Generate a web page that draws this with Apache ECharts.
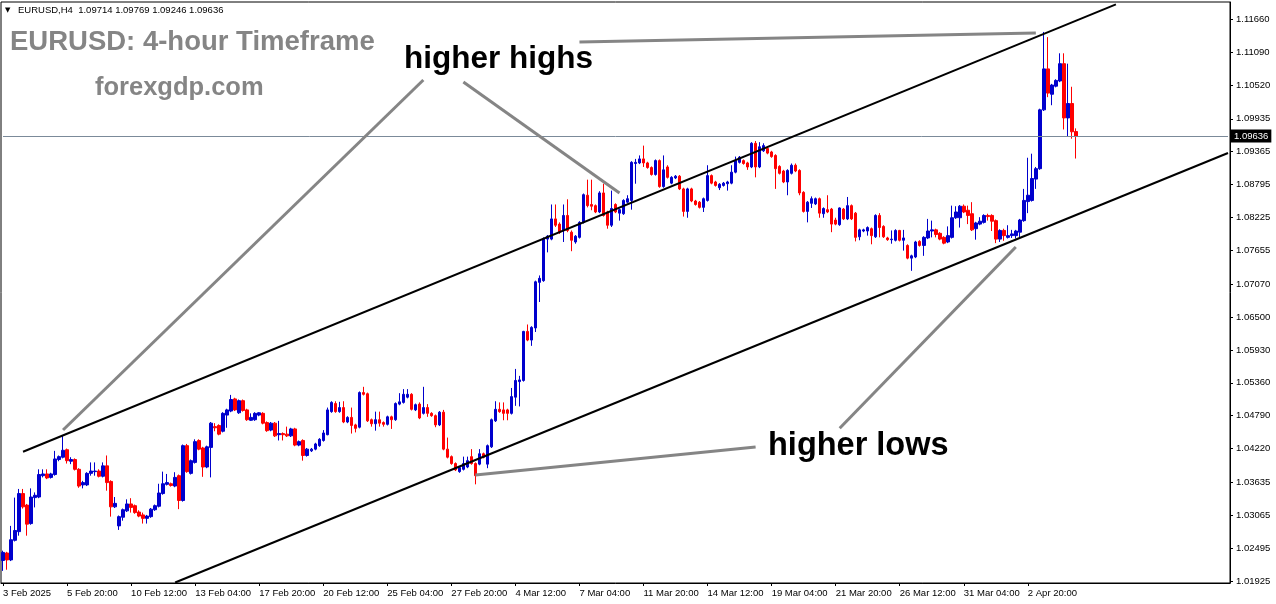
<!DOCTYPE html>
<html><head><meta charset="utf-8">
<script src="https://cdn.jsdelivr.net/npm/echarts@6/dist/echarts.min.js"></script>
<style>html,body{margin:0;padding:0;background:#fff}#c{width:1276px;height:604px}</style>
</head><body><div id="c"></div>
<script>
// EURUSD H4 candles, 3 Feb 2025 .. 4 Apr 2025
const opens=[
1.0228,1.0241,1.0229,1.0263,1.0278,1.0344,1.0324,1.0292,1.0337,1.0338,
1.0375,1.0378,1.0372,1.0377,1.0403,1.0407,1.0420,1.0400,1.0403,1.0386,
1.0359,1.0359,1.0379,1.0382,1.0383,1.0374,1.0392,1.0365,1.0321,1.0288,
1.0303,1.0314,1.0326,1.0323,1.0312,1.0307,1.0301,1.0304,1.0316,1.0322,
1.0344,1.0360,1.0361,1.0357,1.0375,1.0332,1.0427,1.0379,1.0398,1.0436,
1.0423,1.0390,1.0424,1.0460,1.0462,1.0452,1.0480,1.0487,1.0508,1.0484,
1.0505,1.0489,1.0471,1.0472,1.0480,1.0483,1.0467,1.0454,1.0466,1.0446,
1.0448,1.0447,1.0444,1.0456,1.0428,1.0436,1.0410,1.0418,1.0421,1.0427,
1.0436,1.0446,1.0486,1.0500,1.0486,1.0493,1.0468,1.0476,1.0463,1.0459,
1.0519,1.0517,1.0472,1.0465,1.0472,1.0467,1.0464,1.0477,1.0472,1.0499,
1.0502,1.0511,1.0516,1.0489,1.0499,1.0483,1.0493,1.0483,1.0479,1.0463,
1.0485,1.0421,1.0408,1.0396,1.0382,1.0386,1.0390,1.0408,1.0396,1.0395,
1.0413,1.0395,1.0425,1.0470,1.0490,1.0489,1.0489,1.0483,1.0511,1.0538,
1.0540,1.0625,1.0610,1.0631,1.0710,1.0713,1.0785,1.0785,1.0820,1.0811,
1.0800,1.0826,1.0797,1.0780,1.0788,1.0814,1.0861,1.0845,1.0843,1.0832,
1.0865,1.0832,1.0809,1.0845,1.0830,1.0829,1.0849,1.0852,1.0916,1.0917,
1.0924,1.0917,1.0909,1.0897,1.0921,1.0876,1.0910,1.0882,1.0891,1.0894,
1.0872,1.0833,1.0872,1.0851,1.0849,1.0840,1.0852,1.0895,1.0884,1.0874,
1.0878,1.0881,1.0882,1.0901,1.0918,1.0921,1.0917,1.0910,1.0951,1.0910,
1.0938,1.0942,1.0936,1.0930,1.0911,1.0903,1.0884,1.0899,1.0913,1.0904,
1.0866,1.0833,1.0847,1.0846,1.0855,1.0829,1.0836,1.0837,1.0818,1.0810,
1.0837,1.0820,1.0843,1.0830,1.0789,1.0799,1.0799,1.0803,1.0789,1.0826,
1.0807,1.0787,1.0784,1.0783,1.0800,1.0783,1.0774,1.0752,1.0754,1.0781,
1.0774,1.0787,1.0799,1.0801,1.0795,1.0788,1.0780,1.0788,1.0822,1.0822,
1.0842,1.0835,1.0829,1.0803,1.0811,1.0814,1.0826,1.0826,1.0817,1.0785,
1.0800,1.0788,1.0791,1.0791,1.0797,1.0817,1.0850,1.0852,1.0889,1.0907,
1.1009,1.1080,1.1036,1.1050,1.1059,1.1089,1.0995,1.1020,1.09714];
const highs=[
1.0245,1.0243,1.0288,1.0337,1.0352,1.0352,1.0326,1.0353,1.0346,1.0386,
1.0386,1.0386,1.0380,1.0418,1.0410,1.0444,1.0422,1.0407,1.0405,1.0388,
1.0366,1.0381,1.0398,1.0398,1.0386,1.0398,1.0410,1.0367,1.0338,1.0306,
1.0318,1.0334,1.0336,1.0325,1.0315,1.0311,1.0307,1.0319,1.0325,1.0361,
1.0382,1.0378,1.0363,1.0381,1.0377,1.0429,1.0430,1.0403,1.0438,1.0438,
1.0425,1.0427,1.0468,1.0466,1.0464,1.0485,1.0491,1.0515,1.0510,1.0507,
1.0507,1.0491,1.0483,1.0485,1.0485,1.0485,1.0469,1.0468,1.0468,1.0470,
1.0450,1.0460,1.0458,1.0458,1.0436,1.0438,1.0423,1.0423,1.0432,1.0440,
1.0454,1.0493,1.0504,1.0504,1.0503,1.0504,1.0478,1.0493,1.0465,1.0521,
1.0529,1.0519,1.0474,1.0486,1.0486,1.0469,1.0479,1.0479,1.0502,1.0518,
1.0525,1.0525,1.0518,1.0500,1.0502,1.0529,1.0499,1.0485,1.0481,1.0487,
1.0489,1.0441,1.0410,1.0398,1.0391,1.0408,1.0408,1.0421,1.0398,1.0421,
1.0415,1.0429,1.0474,1.0504,1.0502,1.0502,1.0491,1.0527,1.0560,1.0548,
1.0626,1.0637,1.0634,1.0713,1.0722,1.0788,1.0792,1.0845,1.0845,1.0814,
1.0845,1.0854,1.0800,1.0792,1.0816,1.0864,1.0888,1.0888,1.0845,1.0868,
1.0881,1.0834,1.0869,1.0847,1.0838,1.0854,1.0861,1.0920,1.0924,1.0930,
1.0947,1.0919,1.0911,1.0923,1.0923,1.0930,1.0913,1.0894,1.0896,1.0896,
1.0874,1.0874,1.0874,1.0853,1.0851,1.0857,1.0913,1.0897,1.0886,1.0882,
1.0884,1.0886,1.0913,1.0928,1.0929,1.0923,1.0919,1.0953,1.0955,1.0953,
1.0951,1.0944,1.0938,1.0932,1.0913,1.0905,1.0906,1.0916,1.0916,1.0906,
1.0868,1.0851,1.0859,1.0857,1.0857,1.0840,1.0861,1.0839,1.0822,1.0840,
1.0839,1.0858,1.0845,1.0832,1.0803,1.0803,1.0807,1.0805,1.0828,1.0830,
1.0809,1.0789,1.0800,1.0802,1.0801,1.0801,1.0776,1.0758,1.0782,1.0783,
1.0790,1.0820,1.0817,1.0803,1.0797,1.0790,1.0807,1.0843,1.0842,1.0844,
1.0845,1.0843,1.0849,1.0815,1.0823,1.0828,1.0829,1.0828,1.0819,1.0802,
1.0803,1.0809,1.0801,1.0801,1.0820,1.0872,1.0926,1.0933,1.0910,1.1011,
1.1144,1.1135,1.1054,1.1062,1.1107,1.1107,1.1089,1.1049,1.09769];
const lows=[
1.0210,1.0212,1.0227,1.0261,1.0271,1.0318,1.0271,1.0290,1.0320,1.0336,
1.0372,1.0369,1.0370,1.0375,1.0400,1.0405,1.0396,1.0395,1.0384,1.0354,
1.0353,1.0357,1.0375,1.0375,1.0372,1.0372,1.0349,1.0304,1.0319,1.0281,
1.0297,1.0312,1.0311,1.0309,1.0303,1.0292,1.0292,1.0302,1.0314,1.0320,
1.0342,1.0358,1.0356,1.0355,1.0317,1.0330,1.0380,1.0377,1.0396,1.0419,
1.0373,1.0388,1.0372,1.0452,1.0445,1.0450,1.0458,1.0485,1.0487,1.0482,
1.0486,1.0470,1.0470,1.0470,1.0478,1.0464,1.0451,1.0452,1.0442,1.0436,
1.0436,1.0442,1.0442,1.0426,1.0426,1.0401,1.0408,1.0416,1.0419,1.0425,
1.0434,1.0445,1.0484,1.0484,1.0484,1.0466,1.0466,1.0448,1.0450,1.0457,
1.0514,1.0468,1.0460,1.0453,1.0460,1.0460,1.0462,1.0456,1.0470,1.0497,
1.0500,1.0509,1.0488,1.0487,1.0473,1.0481,1.0477,1.0477,1.0459,1.0461,
1.0419,1.0405,1.0394,1.0383,1.0380,1.0384,1.0388,1.0394,1.0360,1.0393,
1.0405,1.0388,1.0423,1.0468,1.0484,1.0471,1.0471,1.0481,1.0496,1.0495,
1.0538,1.0608,1.0600,1.0624,1.0676,1.0711,1.0762,1.0783,1.0806,1.0794,
1.0780,1.0797,1.0764,1.0777,1.0786,1.0812,1.0840,1.0835,1.0830,1.0830,
1.0824,1.0803,1.0806,1.0830,1.0817,1.0827,1.0847,1.0836,1.0881,1.0915,
1.0910,1.0907,1.0895,1.0895,1.0874,1.0874,1.0890,1.0880,1.0889,1.0870,
1.0824,1.0822,1.0849,1.0843,1.0838,1.0832,1.0850,1.0880,1.0876,1.0870,
1.0876,1.0869,1.0880,1.0899,1.0916,1.0914,1.0905,1.0908,1.0892,1.0908,
1.0936,1.0932,1.0926,1.0872,1.0897,1.0882,1.0861,1.0897,1.0901,1.0861,
1.0831,1.0814,1.0839,1.0844,1.0822,1.0822,1.0830,1.0797,1.0809,1.0808,
1.0818,1.0818,1.0818,1.0781,1.0783,1.0797,1.0791,1.0776,1.0787,1.0788,
1.0787,1.0782,1.0777,1.0781,1.0781,1.0765,1.0750,1.0730,1.0752,1.0772,
1.0756,1.0785,1.0788,1.0788,1.0783,1.0776,1.0778,1.0786,1.0820,1.0805,
1.0830,1.0811,1.0799,1.0784,1.0809,1.0812,1.0817,1.0799,1.0778,1.0780,
1.0782,1.0786,1.0787,1.0786,1.0787,1.0815,1.0830,1.0850,1.0872,1.0905,
1.1007,1.1031,1.1017,1.1048,1.1057,1.0975,1.0963,1.0959,1.09246];
const closes=[
1.0242,1.0229,1.0264,1.0280,1.0344,1.0321,1.0291,1.0338,1.0341,1.0377,
1.0378,1.0371,1.0378,1.0404,1.0408,1.0419,1.0401,1.0403,1.0386,1.0357,
1.0363,1.0379,1.0383,1.0383,1.0374,1.0392,1.0363,1.0321,1.0327,1.0304,
1.0316,1.0326,1.0320,1.0311,1.0305,1.0301,1.0305,1.0317,1.0323,1.0345,
1.0361,1.0363,1.0358,1.0372,1.0332,1.0427,1.0382,1.0401,1.0434,1.0421,
1.0390,1.0425,1.0466,1.0458,1.0447,1.0483,1.0489,1.0507,1.0489,1.0505,
1.0488,1.0472,1.0476,1.0483,1.0484,1.0466,1.0453,1.0466,1.0444,1.0448,
1.0446,1.0444,1.0456,1.0428,1.0434,1.0410,1.0421,1.0421,1.0430,1.0438,
1.0449,1.0489,1.0502,1.0486,1.0493,1.0468,1.0476,1.0462,1.0457,1.0519,
1.0516,1.0470,1.0465,1.0472,1.0466,1.0464,1.0477,1.0472,1.0500,1.0503,
1.0516,1.0516,1.0490,1.0498,1.0475,1.0493,1.0483,1.0479,1.0463,1.0485,
1.0421,1.0407,1.0396,1.0385,1.0389,1.0396,1.0401,1.0396,1.0375,1.0413,
1.0407,1.0427,1.0472,1.0490,1.0486,1.0483,1.0483,1.0512,1.0540,1.0541,
1.0625,1.0610,1.0632,1.0711,1.0717,1.0786,1.0790,1.0820,1.0809,1.0797,
1.0826,1.0800,1.0783,1.0790,1.0814,1.0862,1.0843,1.0842,1.0832,1.0865,
1.0826,1.0809,1.0838,1.0832,1.0836,1.0852,1.0855,1.0918,1.0918,1.0924,
1.0917,1.0909,1.0897,1.0921,1.0876,1.0905,1.0892,1.0892,1.0894,1.0872,
1.0833,1.0872,1.0851,1.0845,1.0840,1.0855,1.0895,1.0882,1.0878,1.0880,
1.0882,1.0884,1.0901,1.0921,1.0927,1.0916,1.0910,1.0951,1.0910,1.0945,
1.0947,1.0934,1.0928,1.0907,1.0899,1.0884,1.0904,1.0913,1.0903,1.0865,
1.0833,1.0849,1.0855,1.0855,1.0830,1.0838,1.0832,1.0811,1.0811,1.0839,
1.0820,1.0843,1.0820,1.0788,1.0801,1.0801,1.0805,1.0791,1.0826,1.0805,
1.0789,1.0784,1.0785,1.0800,1.0783,1.0787,1.0752,1.0756,1.0780,1.0774,
1.0788,1.0799,1.0801,1.0793,1.0785,1.0778,1.0791,1.0822,1.0832,1.0842,
1.0832,1.0826,1.0801,1.0813,1.0816,1.0826,1.0824,1.0816,1.0785,1.0800,
1.0791,1.0791,1.0794,1.0799,1.0818,1.0852,1.0861,1.0890,1.0907,1.1009,
1.1080,1.1038,1.1052,1.1060,1.1089,1.0995,1.1020,1.0971,1.09636];

// time-axis labels, one every 16 bars
const xTickLabels=['3 Feb 2025','5 Feb 20:00','10 Feb 12:00','13 Feb 04:00','17 Feb 20:00','20 Feb 12:00',
 '25 Feb 04:00','27 Feb 20:00','4 Mar 12:00','7 Mar 04:00','11 Mar 20:00','14 Mar 12:00',
 '19 Mar 04:00','21 Mar 20:00','26 Mar 12:00','31 Mar 04:00','2 Apr 20:00'];
const xTickStep=16;
const xSlots=307;
// price-scale labels
const yTickValues=[1.01925,1.02495,1.03065,1.03635,1.04220,1.04790,1.05360,1.05930,1.06500,
 1.07070,1.07655,1.08225,1.08795,1.09365,1.09935,1.10520,1.11090,1.11660];
const yMin=1.01890, yMax=1.11959;
const currentPrice=1.09636;
const headerText='EURUSD,H4  1.09714 1.09769 1.09246 1.09636';

// channel lines [barIndex, price] pairs
const channelLines=[
 [[5,1.04164],[278,1.11919]],
 [[43,1.01899],[306,1.09342]]
];
// grey pointer lines from the notes to the swing points
const pointerLines=[
 [[105,1.10607],[15,1.04542]],
 [[115,1.10573],[154,1.08649]],
 [[144,1.11266],[258,1.11422]],
 [[188,1.04247],[118,1.03762]],
 [[209,1.04571],[253,1.07713]]
];

const cats=Array.from({length:xSlots},(_,i)=>String(i));
const candles=opens.map((o,i)=>[o,closes[i],lows[i],highs[i]]);
const showTick=(idx)=>idx%xTickStep===0 && idx/xTickStep<xTickLabels.length;
const FONT='"Liberation Sans", Arial, sans-serif';

const mlData=[
 [{coord:[0,currentPrice],lineStyle:{color:'#7b8a99',width:1,type:'solid'},
   label:{show:true,position:'end',formatter:currentPrice.toFixed(5),color:'#fff',backgroundColor:'#000',
   padding:[2,3,1,3],fontSize:9.5,fontFamily:FONT,distance:3}},
  {coord:[xSlots-1,currentPrice]}]
];
channelLines.forEach(l=>mlData.push([{coord:l[0],lineStyle:{color:'#000',width:2,type:'solid'}},{coord:l[1]}]));
pointerLines.forEach(l=>mlData.push([{coord:l[0],lineStyle:{color:'#858585',width:3,type:'solid'}},{coord:l[1]}]));

const chart=echarts.init(document.getElementById('c'),null,{renderer:'canvas'});
chart.setOption({
 animation:false,
 backgroundColor:'#fff',
 grid:{left:1,right:46,top:2,bottom:21,show:true,borderColor:'#000',borderWidth:1,backgroundColor:'#fff'},
 xAxis:{type:'category',data:cats,boundaryGap:true,
  axisLine:{show:true,lineStyle:{color:'#000',width:1}},
  axisTick:{show:true,interval:showTick,alignWithLabel:true,length:3,lineStyle:{color:'#000'}},
  axisLabel:{show:true,interval:showTick,formatter:(v,idx)=>xTickLabels[idx/xTickStep]||'',
   align:'left',margin:5,color:'#000',fontSize:9.5,fontFamily:FONT},
  splitLine:{show:false}},
 yAxis:{type:'value',position:'right',min:yMin,max:yMax,scale:true,
  axisLine:{show:true,lineStyle:{color:'#000',width:1}},
  axisTick:{show:true,length:3,customValues:yTickValues,lineStyle:{color:'#000'}},
  axisLabel:{show:true,customValues:yTickValues,formatter:(v)=>v.toFixed(5),margin:6,color:'#000',
   fontSize:9.5,fontFamily:FONT},
  splitLine:{show:false}},
 series:[{
  type:'candlestick',data:candles,barWidth:3,silent:true,
  itemStyle:{color:'#0000cd',color0:'#ff0000',borderColor:'#0000cd',borderColor0:'#ff0000',borderWidth:1},
  markLine:{silent:true,symbol:['none','none'],animation:false,label:{show:false},
   emphasis:{disabled:true},data:mlData}
 }],
 graphic:[
  {type:'text',x:5,y:10,style:{text:'▼',font:'7px "DejaVu Sans"',fill:'#000',textVerticalAlign:'middle',verticalAlign:'middle'}},
  {type:'text',x:18,y:10,style:{text:headerText,font:'9.5px '+FONT,fill:'#000',textVerticalAlign:'middle',verticalAlign:'middle'}},
  {type:'text',x:10,y:42,style:{text:'EURUSD: 4-hour Timeframe',font:'bold 27.5px '+FONT,fill:'#858585',textVerticalAlign:'middle',verticalAlign:'middle'}},
  {type:'text',x:95,y:88,style:{text:'forexgdp.com',font:'bold 25.5px '+FONT,fill:'#858585',textVerticalAlign:'middle',verticalAlign:'middle'}},
  {type:'text',x:404,y:59,style:{text:'higher highs',font:'bold 31.5px '+FONT,fill:'#000',textVerticalAlign:'middle',verticalAlign:'middle'}},
  {type:'text',x:768,y:446,style:{text:'higher lows',font:'bold 32.5px '+FONT,fill:'#000',textVerticalAlign:'middle',verticalAlign:'middle'}}
 ]
});
</script></body></html>
